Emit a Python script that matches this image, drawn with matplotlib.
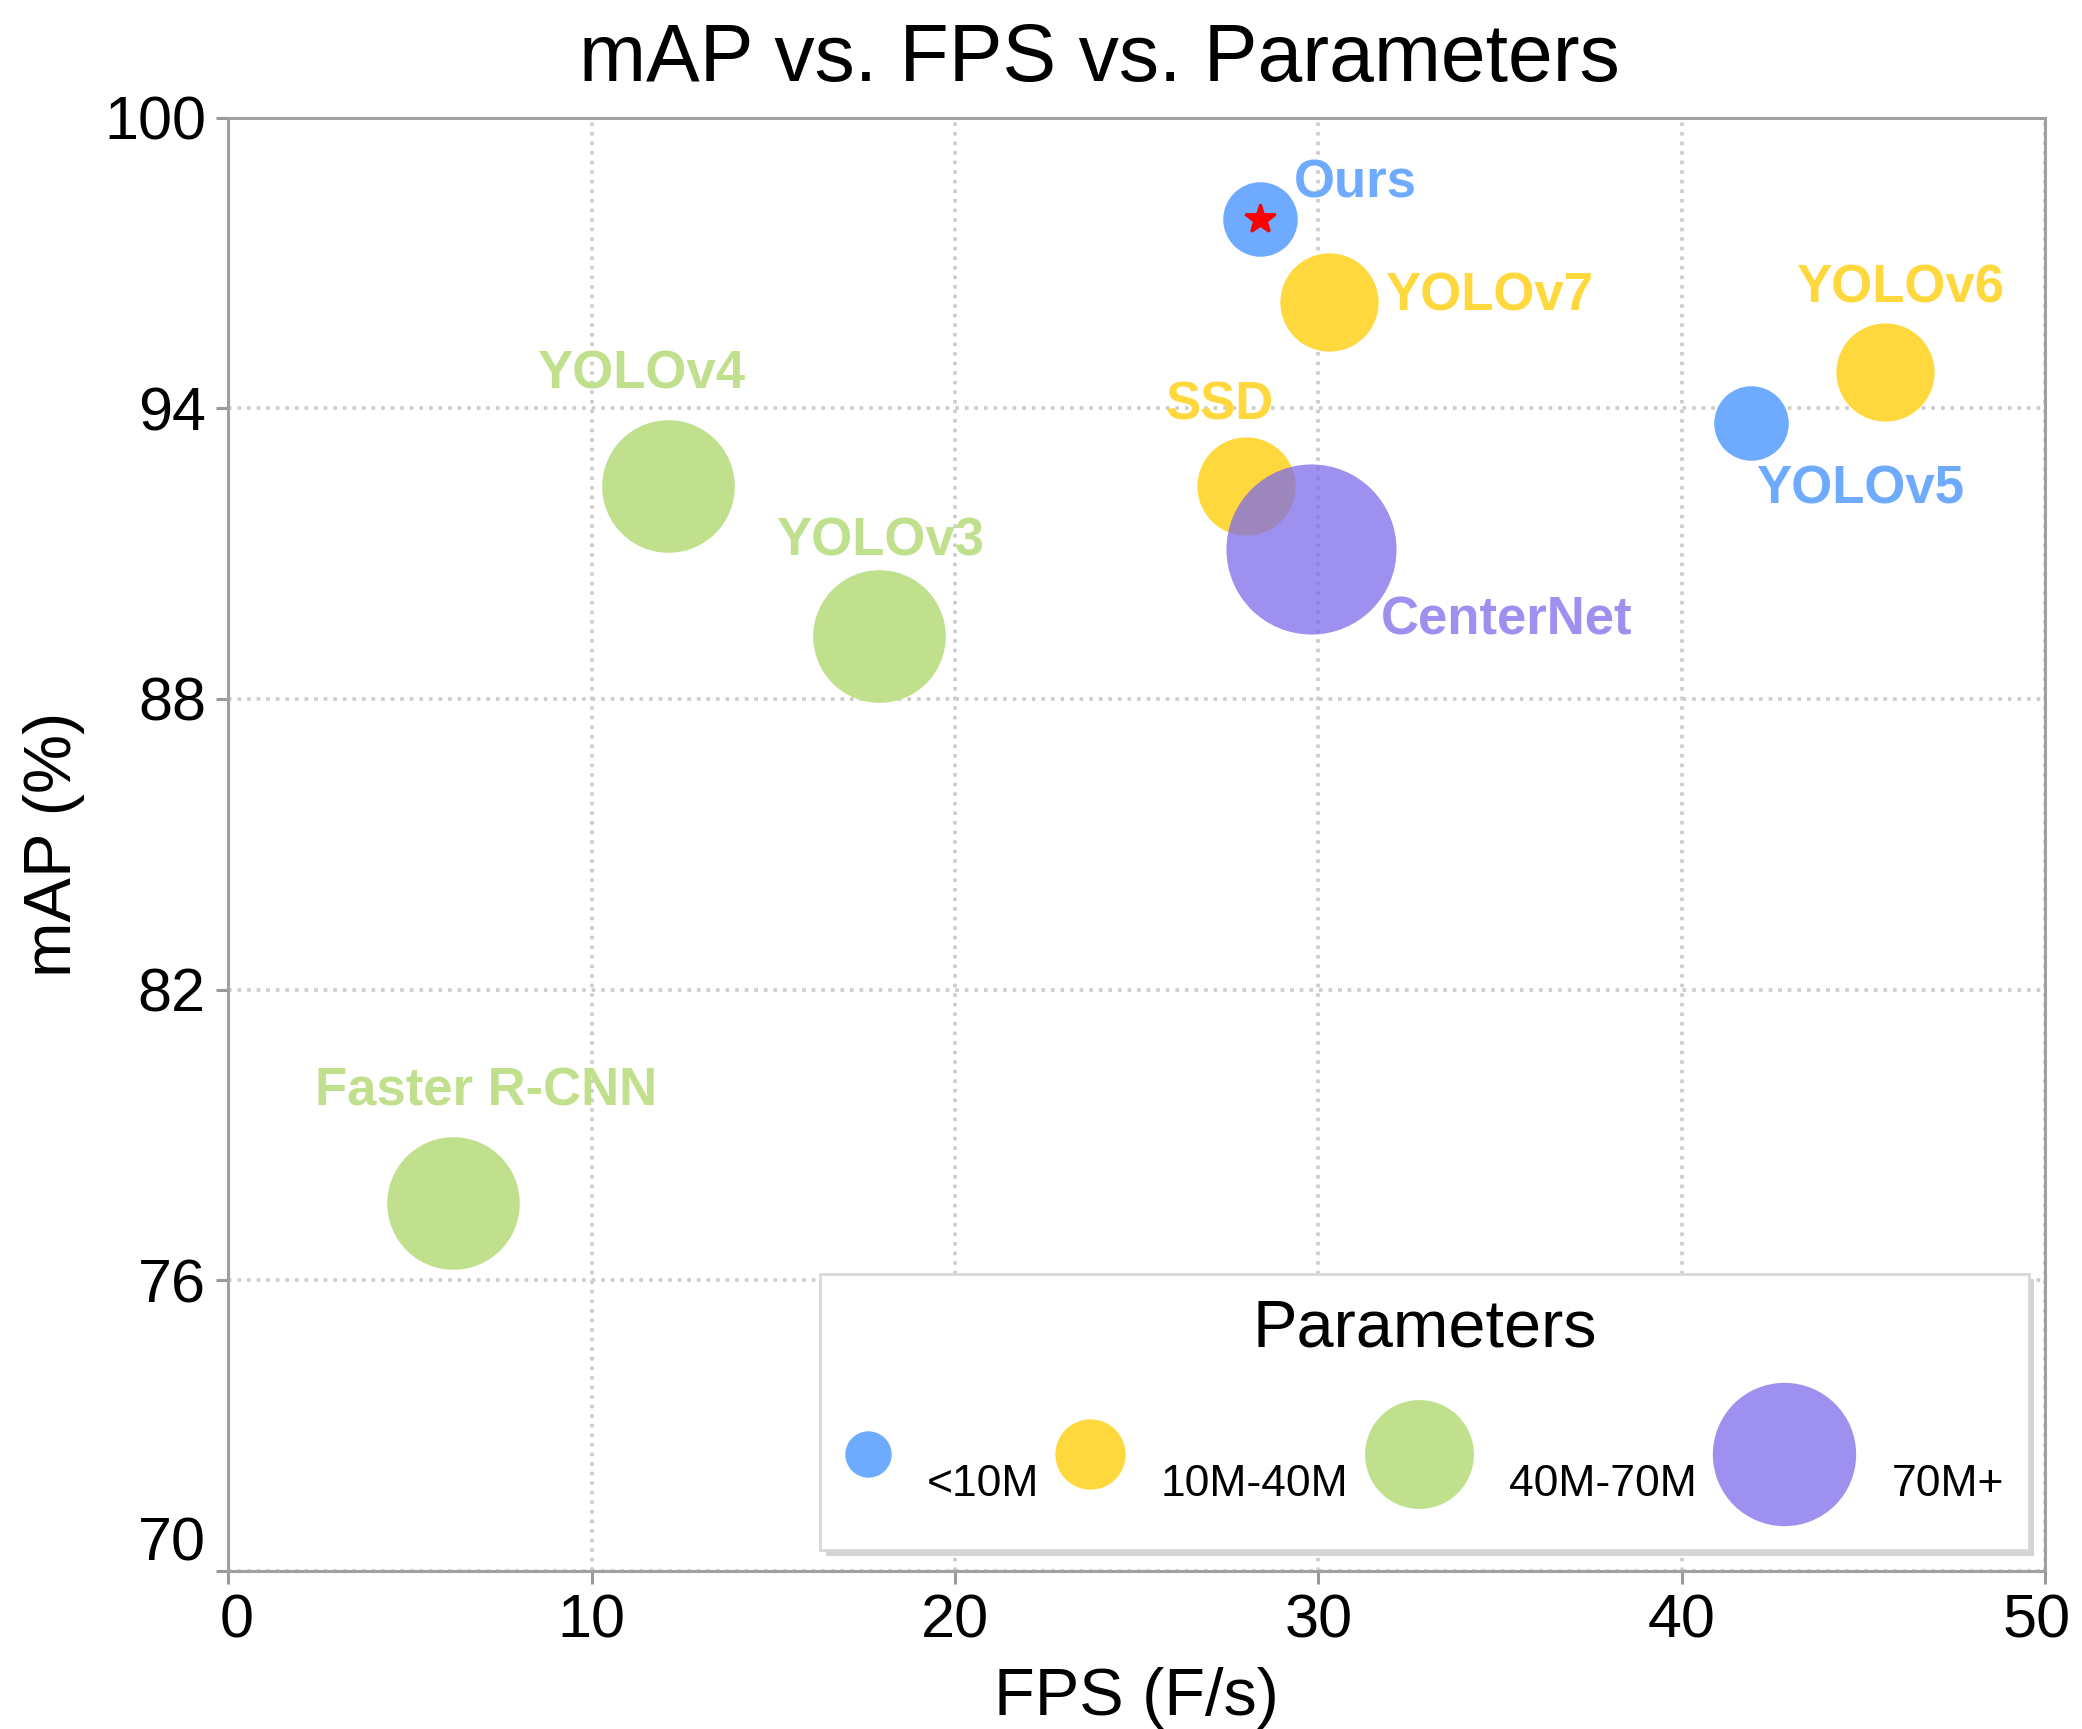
import matplotlib
matplotlib.use('Agg')
import matplotlib.pyplot as plt
from matplotlib.lines import Line2D
from matplotlib.legend_handler import HandlerBase
from matplotlib.transforms import ScaledTranslation

plt.rcParams['font.family'] = ['Liberation Sans', 'DejaVu Sans']

# models, FPS, mAP and parameter group
models = ['Ours', 'YOLOv7', 'YOLOv6', 'YOLOv5', 'SSD', 'CenterNet',
          'YOLOv4', 'YOLOv3', 'Faster R-CNN']
fps = [28.4, 30.3, 45.6, 41.9, 28.0, 29.8, 12.1, 17.9, 6.2]
mAP = [97.9, 96.2, 94.75, 93.7, 92.4, 91.1, 92.4, 89.3, 77.6]
groups = ['<10M', '10M-40M', '10M-40M', '<10M', '10M-40M', '70M+',
          '40M-70M', '40M-70M', '40M-70M']

group_names = ['<10M', '10M-40M', '40M-70M', '70M+']
# bubble fill (purple is see-through), text colour
group_fill = {'<10M': ('#6EABFF', 1.0), '10M-40M': ('#FFD83D', 1.0),
              '40M-70M': ('#C1E08E', 1.0), '70M+': ('#7D6BE9', 0.75)}
group_text = {'<10M': '#6EABFF', '10M-40M': '#FFD83D',
              '40M-70M': '#C1E08E', '70M+': '#9E90EF'}
group_size = {'<10M': 720, '10M-40M': 1250, '40M-70M': 2280, '70M+': 3750}
legend_ms = {'<10M': 16.7, '10M-40M': 25.3, '40M-70M': 39.2, '70M+': 51.6}

# label offsets in points from the bubble centre
label_off = {'Ours': (12, 13), 'YOLOv7': (20, 2), 'YOLOv6': (-32, 30),
             'YOLOv5': (2, -24), 'SSD': (-29, 29), 'CenterNet': (25, -26),
             'YOLOv4': (-47, 40), 'YOLOv3': (-37, 34), 'Faster R-CNN': (-50, 40)}


class BubbleHandler(HandlerBase):
    # legend handle box as wide as the bubble, centre raised above baseline
    def legend_artist(self, legend, orig_handle, fontsize, handlebox):
        d = orig_handle.get_markersize()
        lift = 15
        handlebox.width = d
        handlebox.height = d
        handlebox.ydescent = d / 2 - lift
        ln = Line2D([d / 2], [lift], marker='o', linestyle='none', markersize=d,
                    markerfacecolor=orig_handle.get_markerfacecolor(),
                    markeredgewidth=0, alpha=orig_handle.get_alpha())
        ln.set_transform(handlebox.get_transform())
        handlebox.add_artist(ln)
        return ln


fig = plt.figure(figsize=(10.41, 8.645), dpi=200)
ax = fig.add_axes([0.1096, 0.0914, 0.8726, 0.8406])

for i, m in enumerate(models):
    g = groups[i]
    col, a = group_fill[g]
    ax.scatter(fps[i], mAP[i], s=group_size[g], color=col,
               alpha=a, linewidths=0, zorder=3)
    dx, dy = label_off[m]
    ax.annotate(m, (fps[i], mAP[i]), xytext=(dx, dy), textcoords='offset points',
                ha='left', va='center', fontsize=19, fontweight='bold',
                color=group_text[g], zorder=4)

ax.plot(fps[0], mAP[0], marker='*', color='red', markersize=11,
        linestyle='none', zorder=5)

ax.set_xlim(0, 50)
ax.set_ylim(70, 100)
ax.set_xticks([0, 10, 20, 30, 40, 50])
ax.set_yticks([70, 76, 82, 88, 94, 100])
ax.tick_params(labelsize=22, length=4.5, width=1.1, color='#999999')
ax.grid(True, linestyle=':', color='#cccccc', linewidth=1.3)
ax.set_axisbelow(True)
for sp in ax.spines.values():
    sp.set_color('#a0a0a0')
    sp.set_linewidth(1.1)

# end tick labels sit a little inside the frame
xl = ax.get_xticklabels()
xl[0].set_transform(xl[0].get_transform() + ScaledTranslation(0.04, 0, fig.dpi_scale_trans))
xl[-1].set_transform(xl[-1].get_transform() + ScaledTranslation(-0.04, 0, fig.dpi_scale_trans))
yl = ax.get_yticklabels()
yl[0].set_transform(yl[0].get_transform() + ScaledTranslation(0, 0.16, fig.dpi_scale_trans))

ax.set_title('mAP vs. FPS vs. Parameters', fontsize=29, pad=13, x=0.4795)
ax.set_xlabel('FPS (F/s)', fontsize=24, labelpad=6)
ax.set_ylabel('mAP (%)', fontsize=24, labelpad=7)

handles = [Line2D([], [], marker='o', linestyle='none', markersize=legend_ms[g],
                  markerfacecolor=group_fill[g][0], alpha=group_fill[g][1])
           for g in group_names]
leg = ax.legend(handles, group_names, title='Parameters', ncol=4,
                loc='lower right', bbox_to_anchor=(0.991, 0.0144),
                handler_map={Line2D: BubbleHandler()},
                fontsize=16, title_fontsize=24, frameon=True, fancybox=False,
                shadow={'facecolor': '#b8b8b8', 'edgecolor': 'none', 'alpha': 0.6},
                borderpad=0.55, borderaxespad=0, handletextpad=0.8,
                columnspacing=0.36, labelspacing=0.5,
                edgecolor='#d8d8d8', framealpha=1)
leg.get_frame().set_linewidth(1.0)

fig.savefig('out.png', dpi=200)
